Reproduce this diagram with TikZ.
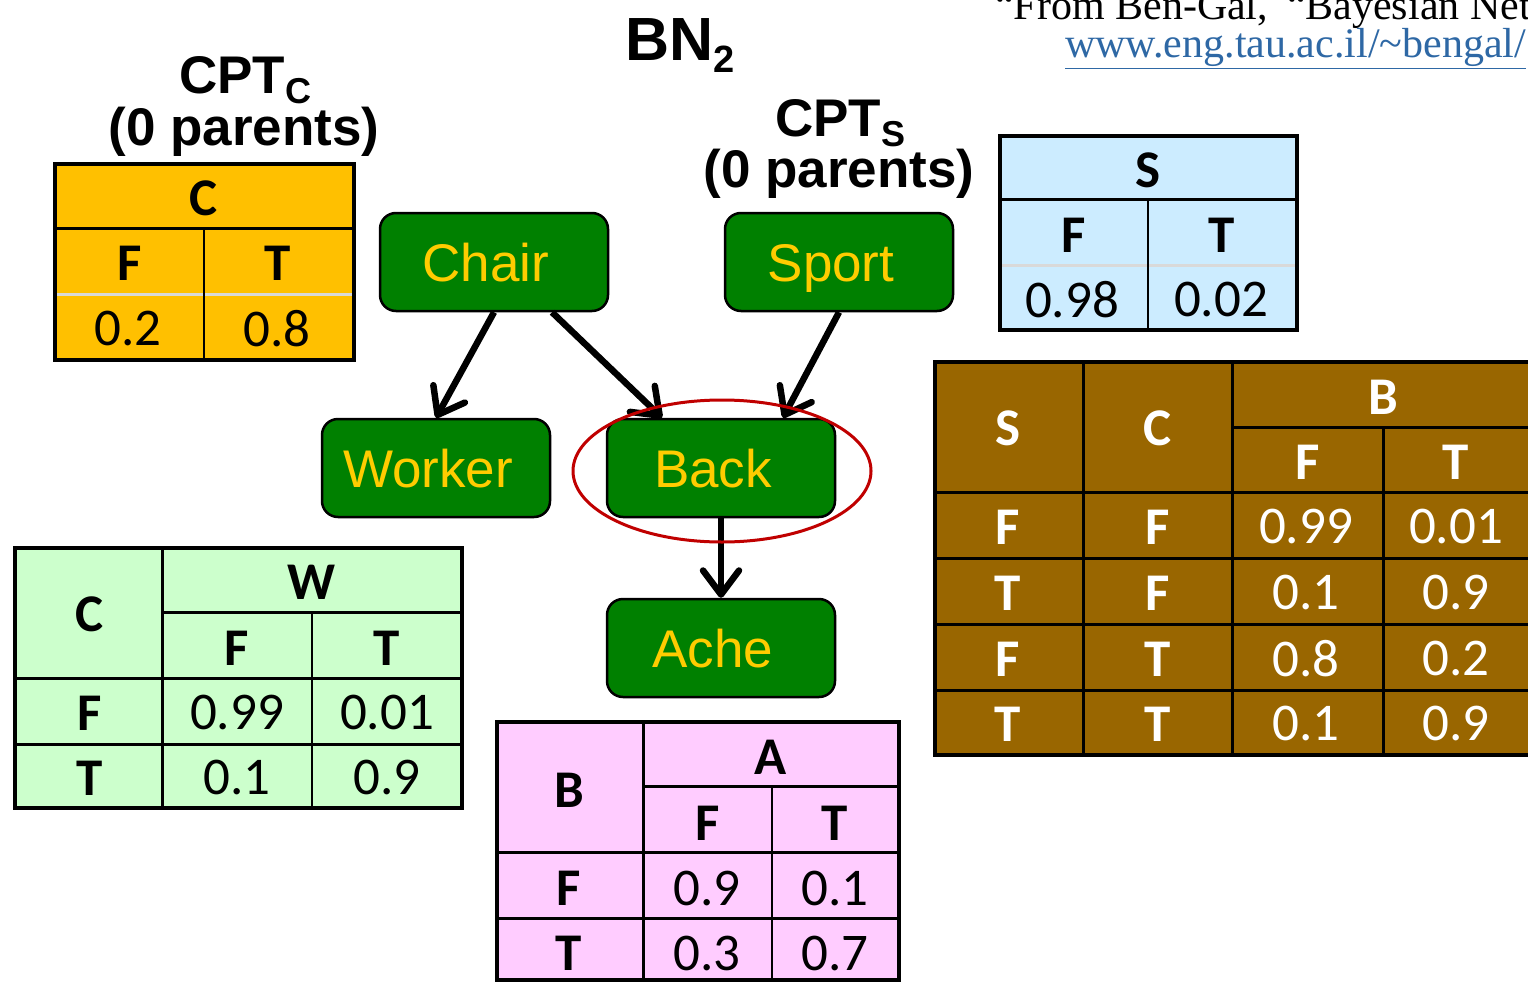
\documentclass[tikz,border=0pt]{standalone}
\usepackage{fontspec}
\setmainfont{Liberation Sans}
\newfontfamily\calfont{Carlito}
\newfontfamily\serfont{Liberation Serif}
\usetikzlibrary{arrows.meta,calc}

\definecolor{nodegreen}{RGB}{0,128,0}
\definecolor{labelyellow}{RGB}{255,204,0}
\definecolor{cptorange}{RGB}{255,192,0}
\definecolor{cptblue}{RGB}{204,236,255}
\definecolor{cptgreen}{RGB}{204,255,204}
\definecolor{cptpink}{RGB}{255,204,255}
\definecolor{cptbrown}{RGB}{153,102,0}
\definecolor{ringred}{RGB}{192,0,0}
\definecolor{linkblue}{RGB}{46,104,165}
\definecolor{sepgray}{RGB}{217,217,217}

\begin{document}
\begin{tikzpicture}[x=1pt,y=-1pt,
  var/.style={draw=black, line width=2.5pt, fill=nodegreen, rounded corners=16pt,
    minimum width=228pt, minimum height=98pt, inner sep=0pt,
    text=labelyellow, font=\fontsize{53}{53}\selectfont,
    text height=38pt, text depth=0pt, execute at end node={\hspace*{16pt}}},
  edge/.style={line width=6.5pt, -{Straight Barb[length=24pt,width=36pt,line width=6.5pt,round]}},
  title/.style={font=\bfseries\fontsize{53}{53}\selectfont, inner sep=0pt, anchor=base},
  cell/.style={font=\calfont\fontsize{53}{53}\selectfont, inner sep=0pt},
  hcell/.style={font=\calfont\bfseries\fontsize{53}{53}\selectfont, inner sep=0pt},
  wcell/.style={cell, text=white},
  whcell/.style={hcell, text=white},
  outer/.style={line width=4pt},
  inner/.style={line width=3pt},
  fine/.style={line width=2pt},
]
\useasboundingbox (0,0) rectangle (1528,982);
\fill[white] (0,0) rectangle (1528,982);
\clip (0,0) rectangle (1528,982);

% ---------- titles and source ----------
\node[title, anchor=base west, font=\bfseries\fontsize{61}{61}\selectfont] (bn) at (625,60)
  {BN\raisebox{-12pt}{\fontsize{38}{38}\selectfont 2}};
\node[title] (cptc) at (245,93) {CPT\raisebox{-10pt}{\fontsize{36}{36}\selectfont C}};
\node[title] (cptcpar) at (244,145) {(0 parents)};
\node[title] (cpts) at (840,136) {CPT\raisebox{-10pt}{\fontsize{36}{36}\selectfont S}};
\node[title] (cptspar) at (839,187) {(0 parents)};
\node[font=\serfont\fontsize{42}{42}\selectfont, anchor=base west, inner sep=0pt] (cite)
  at (995,20) {“From Ben-Gal,\hspace{0.45em}“Bayesian Net};
\node[font=\serfont\fontsize{42}{42}\selectfont, text=linkblue, anchor=base west, inner sep=0pt] (link)
  at (1065,58) {\underline{www.eng.tau.ac.il/\textasciitilde bengal/}};

% ---------- CPT of C ----------
\fill[cptorange] (55,164) rectangle (354,360);
\draw[sepgray, inner] (55,294) -- (354,294);
\draw[inner] (55,228) -- (354,228);
\draw[fine] (204,228) -- (204,360);
\draw[outer] (55,164) rectangle (354,360);
\node[hcell] (c-h) at (204,198) {C};
\node[hcell] (c-f) at (130,263) {F};
\node[hcell] (c-t) at (278,263) {T};
\node[cell] (c-pf) at (128,329) {0.2};
\node[cell] (c-pt) at (277,329) {0.8};

% ---------- CPT of S ----------
\fill[cptblue] (1000,136) rectangle (1297,330);
\draw[sepgray, inner] (1000,265) -- (1297,265);
\draw[inner] (1000,199) -- (1297,199);
\draw[fine] (1148,199) -- (1148,330);
\draw[outer] (1000,136) rectangle (1297,330);
\node[hcell] (s-h) at (1148,170) {S};
\node[hcell] (s-f) at (1074,235) {F};
\node[hcell] (s-t) at (1222,235) {T};
\node[cell] (s-pf) at (1072,300) {0.98};
\node[cell] (s-pt) at (1221,300) {0.02};

% ---------- CPT of W given C ----------
\fill[cptgreen] (15,548) rectangle (462,808);
\draw[inner] (162,548) -- (162,808);
\draw[inner] (162,612) -- (462,612);
\draw[inner] (15,678) -- (462,678);
\draw[inner] (15,744) -- (462,744);
\draw[fine] (312,612) -- (312,808);
\draw[outer] (15,548) rectangle (462,808);
\node[hcell] (w-c) at (90,614) {C};
\node[hcell] (w-h) at (312,582) {W};
\node[hcell] (w-f) at (237,648) {F};
\node[hcell] (w-t) at (387,648) {T};
\node[hcell] (w-r1) at (90,713) {F};
\node[cell] (w-11) at (237,713) {0.99};
\node[cell] (w-12) at (387,713) {0.01};
\node[hcell] (w-r2) at (90,778) {T};
\node[cell] (w-21) at (237,778) {0.1};
\node[cell] (w-22) at (387,778) {0.9};

% ---------- CPT of A given B ----------
\fill[cptpink] (497,722) rectangle (899,980);
\draw[inner] (643,722) -- (643,980);
\draw[inner] (643,786) -- (899,786);
\draw[inner] (497,852) -- (899,852);
\draw[inner] (497,918) -- (899,918);
\draw[fine] (772,786) -- (772,980);
\draw[outer] (497,722) rectangle (899,980);
\node[hcell] (a-b) at (569,790) {B};
\node[hcell] (a-h) at (771,757) {A};
\node[hcell] (a-f) at (708,823) {F};
\node[hcell] (a-t) at (835,823) {T};
\node[hcell] (a-r1) at (569,888) {F};
\node[cell] (a-11) at (707,888) {0.9};
\node[cell] (a-12) at (835,888) {0.1};
\node[hcell] (a-r2) at (569,953) {T};
\node[cell] (a-21) at (707,953) {0.3};
\node[cell] (a-22) at (835,953) {0.7};

% ---------- CPT of B given S and C ----------
\fill[cptbrown] (935,362) rectangle (1545,755);
\draw[inner] (1083,362) -- (1083,755);
\draw[inner] (1232,362) -- (1232,755);
\draw[inner] (1232,427) -- (1545,427);
\draw[inner] (1383,427) -- (1383,755);
\foreach \yy in {492,558,624,690} \draw[inner] (935,\yy) -- (1545,\yy);
\draw[outer] (935,362) rectangle (1545,755);
\node[whcell] (b-s) at (1008,428) {S};
\node[whcell] (b-c) at (1158,428) {C};
\node[whcell] (b-h) at (1383,397) {B};
\node[whcell] (b-f) at (1308,462) {F};
\node[whcell] (b-t) at (1456,462) {T};
\node[whcell] (b-s1) at (1008,527) {F};
\node[whcell] (b-c1) at (1158,527) {F};
\node[wcell] (b-11) at (1306,527) {0.99};
\node[wcell] (b-12) at (1456,527) {0.01};
\node[whcell] (b-s2) at (1008,593) {T};
\node[whcell] (b-c2) at (1158,593) {F};
\node[wcell] (b-21) at (1306,593) {0.1};
\node[wcell] (b-22) at (1456,593) {0.9};
\node[whcell] (b-s3) at (1008,659) {F};
\node[whcell] (b-c3) at (1158,659) {T};
\node[wcell] (b-31) at (1306,659) {0.8};
\node[wcell] (b-32) at (1456,659) {0.2};
\node[whcell] (b-s4) at (1008,724) {T};
\node[whcell] (b-c4) at (1158,724) {T};
\node[wcell] (b-41) at (1306,724) {0.1};
\node[wcell] (b-42) at (1456,724) {0.9};

% ---------- network ----------
\node[var] (chair)  at (494,262) {Chair};
\node[var] (sport)  at (839,262) {Sport};
\node[var] (worker) at (436,468) {Worker};
\node[var] (back)   at (721,468) {Back};
\node[var] (ache)   at (721,648) {Ache};

\draw[edge] (chair.south) -- (worker.north);
\draw[edge] ([xshift=58pt]chair.south) -- ([xshift=-59pt]back.north);
\draw[edge] (sport.south) -- ([xshift=62pt]back.north);
\draw[edge] (back.south) -- (ache.north);

\draw[ringred, line width=3pt] ($(back.center)+(1,3)$) ellipse [x radius=149, y radius=71];
\end{tikzpicture}
\end{document}
